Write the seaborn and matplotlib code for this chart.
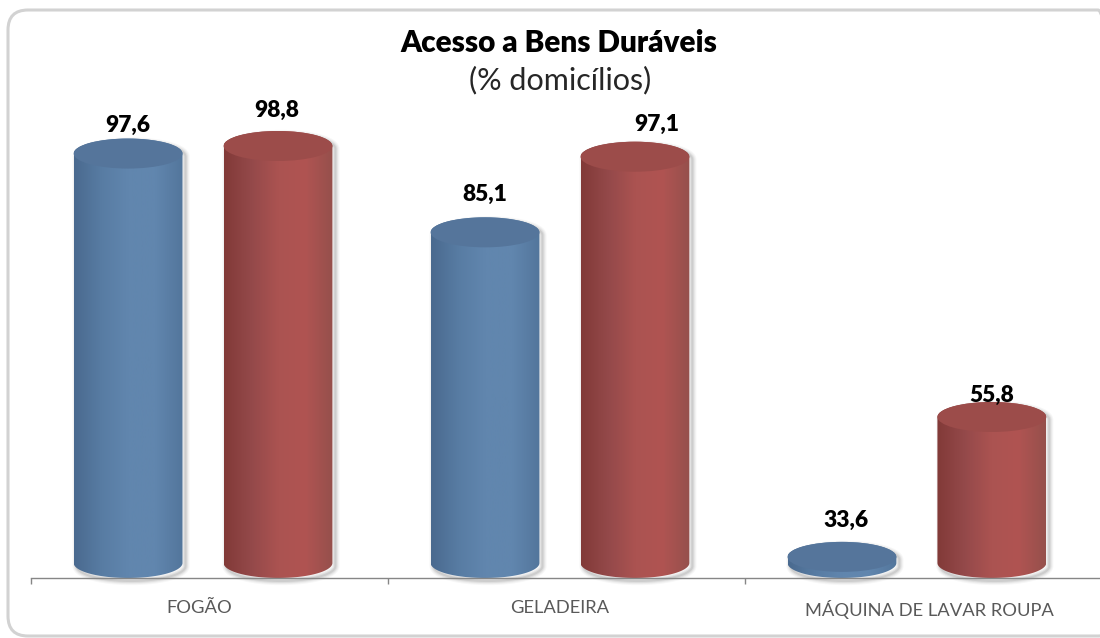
import numpy as np
import pandas as pd
import matplotlib
matplotlib.use("Agg")
import matplotlib.pyplot as plt
import seaborn as sns
from matplotlib.path import Path
from matplotlib.patches import PathPatch, Ellipse, FancyBboxPatch
from matplotlib.colors import LinearSegmentedColormap
from matplotlib.transforms import IdentityTransform, ScaledTranslation, offset_copy

categories = ["FOGÃO", "GELADEIRA", "MÁQUINA DE LAVAR ROUPA"]
series_a = [97.6, 85.1, 33.6]
series_b = [98.8, 97.1, 55.8]
series_names = ["Série 1", "Série 2"]
label_text_a = ["97,6", "85,1", "33,6"]
label_text_b = ["98,8", "97,1", "55,8"]

# styling
BLUE = ["#4a6a8f", "#587ca3", "#6186ae", "#6186ae", "#53769c"]
RED = ["#823a38", "#94494a", "#ab5351", "#b05452", "#96504c"]
TOP = ["#55759b", "#9c4c4a"]
label_nudge_a = [(0, -8), (0, 2), (4, 0)]
label_nudge_b = [(-1, 0), (22, -4), (0, -14)]
tick_nudge = [-3.5, 0, 12.5]
BASE = 32.63          # value level of the base ellipse centre
ELL_H = 30 / 6.3      # ellipse height in value units

sns.set_theme(style="white")
plt.rcParams["font.family"] = ["Lato", "DejaVu Sans"]

fig = plt.figure(figsize=(11, 6.38), dpi=100, facecolor="white")
ax = fig.add_axes([31 / 1100, 60 / 638, 1069 / 1100, 478 / 638])

df = pd.DataFrame({
    "cat": categories * 2,
    "serie": [series_names[0]] * 3 + [series_names[1]] * 3,
    "valor": series_a + series_b,
})
sns.barplot(data=df, x="cat", y="valor", hue="serie", order=categories,
            palette=[BLUE[2], RED[2]], width=0.84, gap=0.274, legend=False,
            saturation=1, ax=ax, errorbar=None)

xlim = (-0.482, 2.513)
ylim = (30.25, 106.1)


def cyl_path(x0, w, top):
    t = np.linspace(0, np.pi, 60)
    cx, rx, ry = x0 + w / 2, w / 2, ELL_H / 2
    low = np.c_[cx - rx * np.cos(t), BASE - ry * np.sin(t)]
    up = np.c_[cx + rx * np.cos(t), top + ry * np.sin(t)]
    return Path(np.r_[low, up, low[:1]], closed=True)


grads = [BLUE, RED]
for s, container in enumerate(ax.containers):
    cmap = LinearSegmentedColormap.from_list("g", grads[s])
    texts = [label_text_a, label_text_b][s]
    nudges = [label_nudge_a, label_nudge_b][s]
    for i, bar in enumerate(container):
        x0, w, top = bar.get_x(), bar.get_width(), bar.get_height()
        path = cyl_path(x0, w, top)
        bar.set_visible(False)
        # soft shadow, mostly to the right and below
        for lw, a in [(6, .03), (4.5, .04), (3, .06), (1.5, .08)]:
            sh = PathPatch(path, fc="none", ec="black", lw=lw, alpha=a, zorder=2,
                           clip_on=False,
                           transform=offset_copy(ax.transData, fig=fig, x=3, y=-3, units="dots"))
            ax.add_patch(sh)
        im = ax.imshow(np.linspace(0, 1, 120)[None, :], cmap=cmap, aspect="auto",
                       extent=(x0, x0 + w, BASE - ELL_H, top + ELL_H), zorder=3)
        im.set_clip_path(PathPatch(path, transform=ax.transData))
        ax.add_patch(Ellipse((x0 + w / 2, top), w, ELL_H, fc=TOP[s], ec="none", zorder=4))
        dx, dy = nudges[i]
        ax.annotate(texts[i], (x0 + w / 2, top), xytext=(dx * .72, (36 + dy) * .72),
                    textcoords="offset points", ha="center", va="center",
                    fontsize=16.4, fontweight="heavy", color="black", zorder=5)

ax.set_xlim(*xlim)
ax.set_ylim(*ylim)
ax.set_xlabel("")
ax.set_ylabel("")
ax.set_yticks([])
ax.patch.set_alpha(0)
for k in ("top", "left", "right"):
    ax.spines[k].set_visible(False)
ax.spines["bottom"].set_color("#868686")
ax.spines["bottom"].set_linewidth(1)
ax.spines["bottom"].set_zorder(6)

ax.set_xticks([0, 1, 2], categories)
ax.set_xticks([-0.482, 0.518, 1.518], minor=True)
ax.tick_params(axis="x", which="major", length=0, pad=16, labelsize=13.2, labelcolor="#595959")
ax.tick_params(axis="x", which="minor", bottom=True, length=4, width=1, color="#868686")
for lab, dx in zip(ax.get_xticklabels(), tick_nudge):
    lab.set_transform(lab.get_transform() + ScaledTranslation(dx / 100, 0, fig.dpi_scale_trans))

fig.text(558.5 / 1100, 1 - 43 / 638, "Acesso a Bens Duráveis", ha="center", va="center",
         fontsize=21.4, fontweight="heavy", color="black")
fig.text(560.5 / 1100, 1 - 80 / 638, "(% domicílios)", ha="center", va="center",
         fontsize=22, color="#262626")

fig.add_artist(FancyBboxPatch((8, 638 - 636), 1110, 626, boxstyle="round,pad=0,rounding_size=20",
                              fc="none", ec="#d2d2d2", lw=2.2, transform=IdentityTransform()))

fig.savefig("out.png", dpi=100)
